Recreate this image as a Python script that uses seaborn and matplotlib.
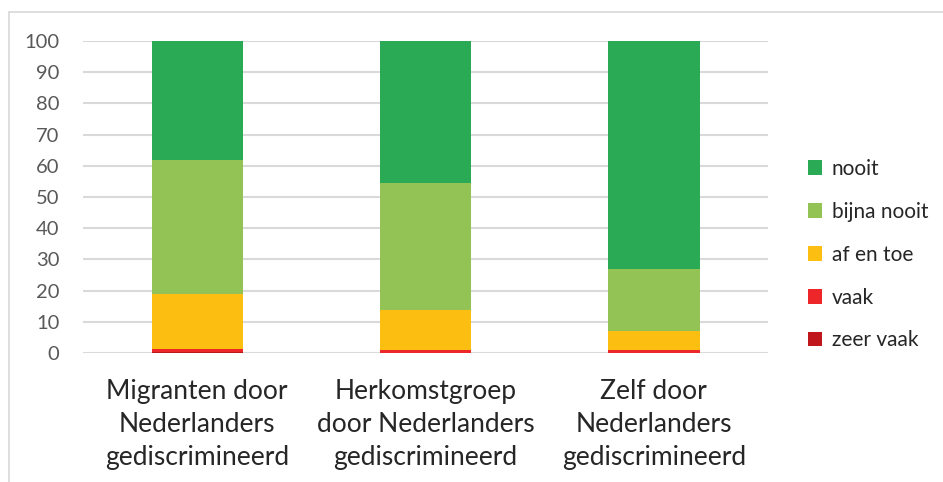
import numpy as np
import pandas as pd
import matplotlib
import matplotlib.pyplot as plt
import seaborn as sns
from matplotlib.patches import Patch
from matplotlib.lines import Line2D

matplotlib.use("Agg")

categories = [
    "Migranten door\nNederlanders\ngediscrimineerd",
    "Herkomstgroep\ndoor Nederlanders\ngediscrimineerd",
    "Zelf door\nNederlanders\ngediscrimineerd",
]
answers = ["zeer vaak", "vaak", "af en toe", "bijna nooit", "nooit"]
zeer_vaak = [0.2, 0.1, 0.1]
vaak = [1.1, 0.8, 0.8]
af_en_toe = [17.5, 12.8, 6.1]
bijna_nooit = [43.1, 40.8, 20.0]
nooit = [38.1, 45.5, 73.0]
colors = ["#C0171C", "#EC2629", "#FCBE10", "#94C355", "#2AAA55"]

df = pd.DataFrame(
    {"zeer vaak": zeer_vaak, "vaak": vaak, "af en toe": af_en_toe,
     "bijna nooit": bijna_nooit, "nooit": nooit},
    index=categories,
)
cum = df[answers].cumsum(axis=1)

sns.set_theme(style="white")
plt.rcParams["font.family"] = ["Lato", "DejaVu Sans"]

fig = plt.figure(figsize=(9.43, 4.82), dpi=100)
ax = fig.add_axes([83 / 943, 1 - 353 / 482, 685 / 943, 312 / 482])

# stacked bars: draw cumulative totals, largest first
for ans, col in reversed(list(zip(answers, colors))):
    sns.barplot(x=categories, y=cum[ans].values, color=col, width=0.4,
                saturation=1, linewidth=0, ax=ax, zorder=3)

ax.set_ylim(0, 100)
ax.set_yticks(range(0, 101, 10))
ax.yaxis.grid(True, color="#D9D9D9", linewidth=1.5, zorder=0)
ax.set_axisbelow(True)
for s in ax.spines.values():
    s.set_visible(False)
ax.tick_params(axis="y", length=0, labelsize=14.5, labelcolor="#595959", pad=17)
ax.tick_params(axis="x", length=0, labelsize=19, labelcolor="#262626", pad=19)
for lbl in ax.get_xticklabels():
    lbl.set_linespacing(1.4)
ax.set_xlabel("")
ax.set_ylabel("")

handles = [Patch(facecolor=c, edgecolor="none") for c in reversed(colors)]
fig.legend(handles, list(reversed(answers)), loc="upper left",
           bbox_to_anchor=(789 / 943, 1 - 140 / 482), frameon=False,
           fontsize=15, handlelength=0.7, handleheight=0.7,
           handletextpad=0.45, labelspacing=1.1, labelcolor="#262626")

# outer chart frame (left and top edges visible)
fig.add_artist(Line2D([9 / 943, 9 / 943], [0, 1 - 12 / 482],
                      transform=fig.transFigure, color="#D9D9D9", lw=1.2))
fig.add_artist(Line2D([9 / 943, 1], [1 - 12 / 482, 1 - 12 / 482],
                      transform=fig.transFigure, color="#D9D9D9", lw=1.2))

fig.savefig("out.png", dpi=100)
